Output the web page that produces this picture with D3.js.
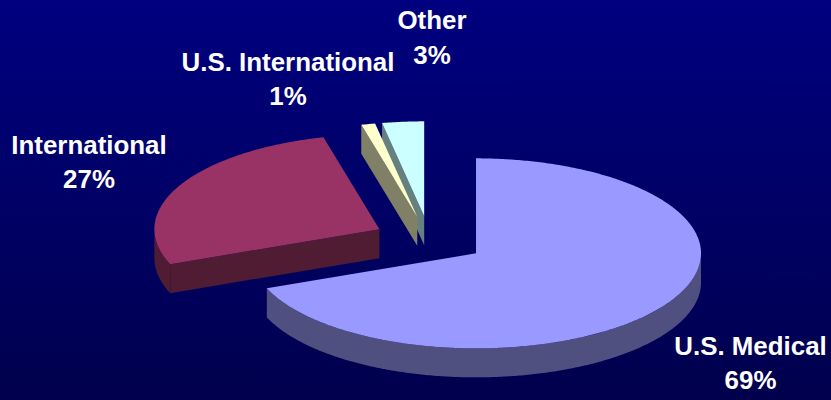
<!DOCTYPE html>
<html>
<head>
<meta charset="utf-8">
<script src="https://cdn.jsdelivr.net/npm/d3@7"></script>
<style>
  html, body { margin: 0; padding: 0; background: #000066; }
  svg { display: block; }
  text { font-family: "Liberation Sans", Arial, sans-serif; font-weight: bold; fill: #fff; }
</style>
</head>
<body>
<div id="chart"></div>
<script>
// data
var categories = ['U.S. Medical', 'International', 'U.S. International', 'Other']
var shares = [69, 27, 1, 3]

// styles per slice
var topColors = ['#9999ff', '#993366', '#ffffcc', '#ccffff']
var sideColors = ['#4f5080', '#4f1c33', '#808066', '#668080']
var labelAnchors = [[750.5, 354.5], [89, 153.5], [288, 70.5], [432, 29]]

var
  WIDTH = 831,
  HEIGHT = 400,
  CX = 429.5,
  CY = 240,
  RX = 225,
  RY = 95,
  EXPLODE = 0.25,
  DEPTH = 29,
  FONT_SIZE = 25.9,
  LINE_HEIGHT = 34.5

var svg = d3.select('#chart').append('svg')
  .attr('width', WIDTH)
  .attr('height', HEIGHT)

var grad = svg.append('defs').append('linearGradient')
  .attr('id', 'bg')
  .attr('x1', 0).attr('y1', 0).attr('x2', 0).attr('y2', 1)
grad.append('stop').attr('offset', 0).attr('stop-color', '#000080')
grad.append('stop').attr('offset', 1).attr('stop-color', '#00004d')

svg.append('rect')
  .attr('width', WIDTH)
  .attr('height', HEIGHT)
  .attr('fill', 'url(#bg)')

// unit circle -> flattened pie on screen
var x = d3.scaleLinear().domain([-1, 1]).range([CX - RX, CX + RX])
var y = d3.scaleLinear().domain([-1, 1]).range([CY - RY, CY + RY])

var line = d3.line()
  .x(function(d) { return x(d[0]) })
  .y(function(d) { return y(d[1]) + (d[2] || 0) })

var slices = d3.pie().sort(null).value(function(d) { return d })(shares)

function centre(s) {
  var mid = (s.startAngle + s.endAngle) / 2
  return [EXPLODE * Math.sin(mid), -EXPLODE * Math.cos(mid)]
}

function rim(s, a, drop) {
  var c = centre(s)
  return [c[0] + Math.sin(a), c[1] - Math.cos(a), drop]
}

function arcPoints(s, from, to, drop) {
  var n = Math.max(2, Math.ceil((to - from) / 0.01))
  return d3.range(n + 1).map(function(i) {
    return rim(s, from + (to - from) * i / n, drop)
  })
}

function topFace(s) {
  var c = centre(s)
  return line([[c[0], c[1]]].concat(arcPoints(s, s.startAngle, s.endAngle, 0))) + 'Z'
}

// cut face along the start edge, only seen on slices in the left half
function cutFace(s) {
  var c = centre(s), p = rim(s, s.startAngle, 0)
  return line([[c[0], c[1], 0], p, [p[0], p[1], DEPTH], [c[0], c[1], DEPTH]]) + 'Z'
}

// outer wall, front half of the ellipse only
function wall(s) {
  var from = Math.max(s.startAngle, Math.PI / 2),
    to = Math.min(s.endAngle, Math.PI * 1.5)
  if (to <= from) return null
  var upper = arcPoints(s, from, to, 0),
    lower = arcPoints(s, from, to, DEPTH).reverse()
  return line(upper.concat(lower)) + 'Z'
}

// back to front
var order = [3, 2, 1, 0]
var sliceG = svg.append('g').selectAll('g')
  .data(order)
  .enter()
  .append('g')

sliceG.append('path')
  .attr('d', function(i) { return wall(slices[i]) })
  .attr('fill', function(i) { return sideColors[i] })

sliceG.filter(function(i) { return i !== 0 })
  .append('path')
  .attr('d', function(i) { return cutFace(slices[i]) })
  .attr('fill', function(i) { return sideColors[i] })

sliceG.append('path')
  .attr('d', function(i) { return topFace(slices[i]) })
  .attr('fill', function(i) { return topColors[i] })

var labels = svg.append('g').selectAll('text')
  .data(categories)
  .enter()
  .append('text')
  .attr('font-size', FONT_SIZE)
  .attr('text-anchor', 'middle')

labels.append('tspan')
  .attr('x', function(d, i) { return labelAnchors[i][0] })
  .attr('y', function(d, i) { return labelAnchors[i][1] })
  .text(function(d) { return d })

labels.append('tspan')
  .attr('x', function(d, i) { return labelAnchors[i][0] })
  .attr('y', function(d, i) { return labelAnchors[i][1] + LINE_HEIGHT })
  .text(function(d, i) { return shares[i] + '%' })
</script>
</body>
</html>
